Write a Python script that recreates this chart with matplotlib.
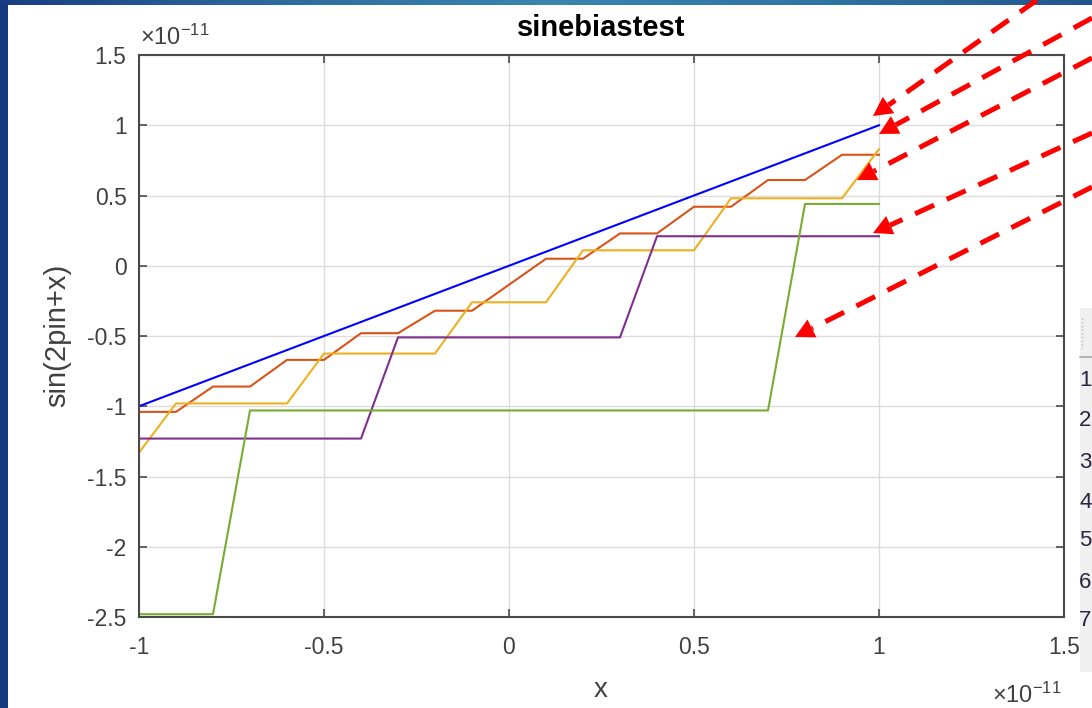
import matplotlib
matplotlib.use("Agg")
import matplotlib.pyplot as plt
import numpy as np
from matplotlib.patches import Rectangle, Polygon
from matplotlib.lines import Line2D
from matplotlib.ticker import FuncFormatter

plt.rcParams['font.family'] = ['Liberation Sans', 'DejaVu Sans']
plt.rcParams['mathtext.fontset'] = 'custom'
plt.rcParams['mathtext.rm'] = 'Liberation Sans'
plt.rcParams['mathtext.it'] = 'Liberation Sans'
plt.rcParams['axes.unicode_minus'] = False
plt.rcParams['lines.scale_dashes'] = False

SCALE = 1e-11

# ---- data (in units of 1e-11) ----
blue_x = [-1.0, 1.0]
blue_y = [-1.0, 1.0]

orange_x = [-1.0, -0.9, -0.8, -0.7, -0.6, -0.5, -0.4, -0.3, -0.2, -0.1,
            0.1, 0.2, 0.3, 0.4, 0.5, 0.6, 0.7, 0.8, 0.9, 1.0]
orange_y = [-1.04, -1.04, -0.86, -0.86, -0.67, -0.67, -0.48, -0.48, -0.32, -0.32,
            0.05, 0.05, 0.23, 0.23, 0.42, 0.42, 0.61, 0.61, 0.79, 0.79]

yellow_x = [-1.0, -0.9, -0.6, -0.5, -0.2, -0.1, 0.1, 0.2, 0.5, 0.6, 0.9, 1.0]
yellow_y = [-1.33, -0.98, -0.98, -0.625, -0.625, -0.26, -0.26, 0.11, 0.11, 0.48, 0.48, 0.83]

purple_x = [-1.0, -0.4, -0.3, 0.3, 0.4, 1.0]
purple_y = [-1.23, -1.23, -0.51, -0.51, 0.21, 0.21]

green_x = [-1.0, -0.8, -0.7, 0.7, 0.8, 1.0]
green_y = [-2.48, -2.48, -1.03, -1.03, 0.44, 0.44]

xticks = [-1, -0.5, 0, 0.5, 1, 1.5]
yticks = [-2.5, -2, -1.5, -1, -0.5, 0, 0.5, 1, 1.5]
table_rows = ['1', '2', '3', '4', '5', '6', '7']

series = [
    (blue_x, blue_y, '#0000FF'),
    (orange_x, orange_y, '#D95319'),
    (yellow_x, yellow_y, '#EDB120'),
    (purple_x, purple_y, '#7E2F8E'),
    (green_x, green_y, '#77AC30'),
]

W, H = 1092, 708
fig = plt.figure(figsize=(W / 100, H / 100), dpi=100, facecolor='white')
TXT = '#404040'

# main axes
L, R, T, B = 139, 1064, 55, 617
ax = fig.add_axes([L / W, 1 - B / H, (R - L) / W, (B - T) / H])
for xs, ys, c in series:
    ax.plot(np.array(xs) * SCALE, np.array(ys) * SCALE, color=c, lw=1.5)

ax.set_xlim(-1 * SCALE, 1.5 * SCALE)
ax.set_ylim(-2.5 * SCALE, 1.5 * SCALE)
ax.set_xticks(np.array(xticks) * SCALE)
ax.set_yticks(np.array(yticks) * SCALE)
fmt = FuncFormatter(lambda v, p: f'{round(v / SCALE, 6):g}')
ax.xaxis.set_major_formatter(fmt)
ax.yaxis.set_major_formatter(fmt)
ax.grid(True, color='#dcdcdc', lw=1.0)
ax.set_axisbelow(True)
for s in ax.spines.values():
    s.set_color('#4a4a4a')
    s.set_linewidth(1.5)
ax.tick_params(direction='in', length=6, width=1.2, colors='#4a4a4a',
               labelcolor=TXT, labelsize=16.5, top=True, right=True)
ax.tick_params(axis='x', pad=14)
ax.tick_params(axis='y', pad=9)

# exponent labels
offset = r'$\times\mathregular{10^{-11}}$'
fig.text(140 / W, 1 - 45 / H, offset, ha='left', va='baseline', fontsize=17, color=TXT)
fig.text(1062 / W, 1 - 703 / H, offset, ha='right', va='baseline', fontsize=17, color=TXT)

fig.text((L + R) / 2 / W, 1 - 28 / H, 'sinebiastest', ha='center', va='center',
         fontsize=21, fontweight='bold', color='black')
fig.text(601 / W, 1 - 690 / H, 'x', ha='center', va='center', fontsize=20, color=TXT)
fig.text(57 / W, 1 - 335 / H, 'sin(2pin+x)', ha='center', va='center', rotation=90,
         fontsize=21, color=TXT)

# overlay for decorations (pixel coords, y down)
ov = fig.add_axes([0, 0, 1, 1], zorder=10)
ov.axis('off')
ov.patch.set_alpha(0)

# frame bands
ov.add_patch(Rectangle((0, 0), 8, H, color='#163a7e', lw=0))
grad = np.linspace(0, 1, 256)
cmap = matplotlib.colors.LinearSegmentedColormap.from_list(
    'band', ['#173e80', '#2d6aa0', '#3a86b0', '#2f74a6', '#21558f'])
ov.imshow(grad[None, :], cmap=cmap, aspect='auto', extent=(0, W, 5, 0), zorder=1)
ov.set_xlim(0, W)
ov.set_ylim(H, 0)

# table fragment on the right
ov.add_patch(Rectangle((1080, 308), 12, 364, color='#f0f0f0', lw=0))
ov.add_line(Line2D([1080, 1092], [357, 357], color='#a8a8a8', lw=1.2))
ov.add_line(Line2D([1082, 1082], [318, 348], color='#b0b0b0', lw=1.0, ls=':'))
row_y = [380, 421, 462, 502, 541, 582, 621]
for t, yy in zip(table_rows, row_y):
    ov.text(1079, yy, t, ha='left', va='center', fontsize=16, color='#2b2340', clip_on=False)

# red dashed arrows
arrows = [((1037, 0), (873, 116)),
          ((1092, 18), (879, 134)),
          ((1092, 58), (857, 180)),
          ((1092, 133), (873, 233)),
          ((1092, 187), (795, 337))]
HL, HW = 19, 10
for (x0, y0), (x1, y1) in arrows:
    d = np.array([x1 - x0, y1 - y0], float)
    n = np.hypot(*d)
    u = d / n
    p = np.array([-u[1], u[0]])
    base = np.array([x1, y1]) - u * HL
    ov.add_line(Line2D([x0, base[0]], [y0, base[1]], color='#ff0000', lw=3.6,
                       dashes=(15, 10), solid_capstyle='butt', dash_capstyle='butt'))
    head = [[x1, y1], base + p * HW, base - p * HW]
    ov.add_patch(Polygon(head, closed=True, color='#ff0000', lw=0))

fig.savefig('out.png', dpi=100, facecolor='white')
